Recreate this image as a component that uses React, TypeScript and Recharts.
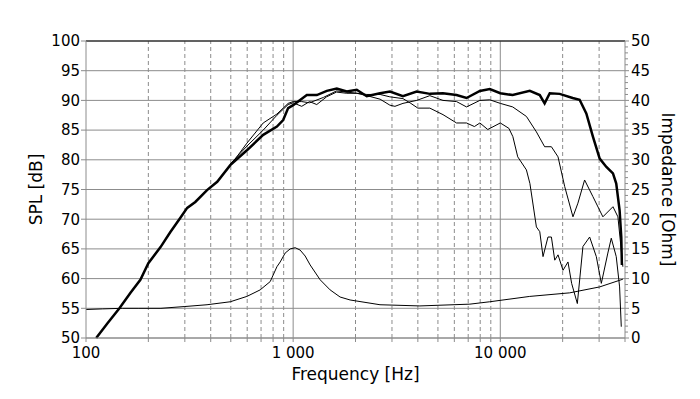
import { LineChart, Line, XAxis, YAxis, CartesianGrid, ReferenceLine } from 'recharts';

// frequency axis
const freqTicks = [
  100, 200, 300, 400, 500, 600, 700, 800, 900,
  1000, 2000, 3000, 4000, 5000, 6000, 7000, 8000, 9000,
  10000, 20000, 30000, 40000,
];
const labelledFreqs = [100, 1000, 10000];
const minorFreqs = [
  200, 300, 400, 500, 600, 700, 800, 900,
  2000, 3000, 4000, 5000, 6000, 7000, 8000, 9000,
  20000, 30000,
];
const decadeFreqs = [1000, 10000];

const splTicks = [50, 55, 60, 65, 70, 75, 80, 85, 90, 95, 100];
const impedanceTicks = Array.from({ length: 51 }, (_, i) => i);

// on-axis SPL (thick)
const onAxisFreq = [
  112, 127, 145, 164, 183, 200, 229, 255, 285, 308, 337, 384, 430, 497, 598, 717, 835, 895, 946,
  1000, 1164, 1301, 1454, 1624, 1815, 2028, 2266, 2626, 2934, 3388, 3945, 4574, 5285, 6148, 6871,
  7967, 8900, 10000, 11480, 13880, 15510, 16370, 17330, 19360, 22350, 24150, 26020, 28000, 30190,
  32520, 34990, 36290, 37670, 38380, 38640,
];
const onAxisSpl = [
  50, 52.5, 55, 57.6, 59.8, 62.6, 65.3, 67.8, 70.2, 71.9, 72.9, 74.9, 76.3, 79.1, 81.6, 84.2, 85.6, 86.7, 88.7,
  89.2, 90.9, 90.9, 91.6, 92.0, 91.5, 91.8, 90.7, 91.2, 91.5, 90.7, 91.5, 91.1, 91.2, 90.9, 90.4,
  91.6, 91.9, 91.2, 90.9, 91.6, 90.9, 89.5, 91.2, 91.1, 90.4, 90.1, 87.8, 83.9, 80.2,
  78.8, 77.7, 76.0, 71.5, 67.0, 62.3,
];

// off-axis SPL, middle roll-off (thin)
const offAxisAFreq = [
  497, 598, 717, 835, 946, 1000, 1100, 1200, 1300, 1450, 1620, 1815, 2030, 2270, 2630, 2930, 3100,
  3390, 3950, 4570, 5290, 6150, 6870, 7970, 8900, 10000, 11480, 13370, 14940, 16370, 17650, 19000,
  20460, 22430, 23700, 25530, 28000, 31280, 34990, 36970, 38380, 39060,
];
const offAxisASpl = [
  79.3, 82.3, 85.0, 87.5, 89.3, 89.6, 89.0, 89.8, 89.3, 90.6, 91.4, 91.2, 91.2, 90.8, 90.2, 89.2, 89.0,
  89.5, 90.0, 90.8, 90.0, 89.8, 88.9, 90.0, 90.1, 89.5, 88.9, 87.3, 84.7, 82.2, 82.2, 80.5,
  75.5, 70.4, 72.7, 76.6, 73.8, 70.4, 72.1, 70.4, 64.8, 62.0,
];

// off-axis SPL, early roll-off (thin)
const offAxisBFreq = [
  497, 598, 717, 835, 946, 1000, 1100, 1200, 1400, 1620, 1815, 2030, 2270, 2630, 2930, 3390, 3700,
  4000, 4570, 5290, 6150, 6870, 7500, 7970, 8700, 10000, 11000, 11500, 12140, 13370, 13900, 14940,
  15510, 16080, 16990, 17650, 18320, 19000, 20080, 21220, 22100, 23550, 25060, 27000, 29080, 30750,
  33060, 34340, 36290, 37670, 38380,
];
const offAxisBSpl = [
  79.0, 82.8, 86.2, 87.7, 89.5, 89.8, 89.8, 89.6, 90.5, 91.6, 91.4, 91.2, 91.0, 91.0, 90.6, 90.3, 89.5,
  88.7, 88.7, 87.6, 86.2, 86.2, 85.6, 86.2, 85.1, 86.2, 85.3, 83.9, 80.5, 78.3, 76.0, 68.7,
  67.9, 63.7, 67.0, 67.0, 63.1, 64.0, 61.4, 62.8, 59.2, 55.8, 65.4, 67.0, 63.7, 59.2,
  64.3, 66.8, 63.7, 58.6, 51.9,
];

// impedance (right axis)
const impedanceFreq = [
  100, 120, 150, 180, 230, 300, 384, 497, 598, 693, 775, 835, 866, 915, 968, 1023, 1081, 1143, 1208,
  1350, 1508, 1685, 1883, 2626, 4090, 7130, 8890, 13870, 21620, 30190, 39060,
];
const impedanceOhm = [
  4.8, 4.9, 5.0, 5.0, 5.0, 5.3, 5.6, 6.1, 7.0, 8.1, 9.5, 12.0, 12.8, 14.3, 15.0, 15.2, 14.8, 13.8, 12.3,
  9.8, 8.1, 6.9, 6.4, 5.6, 5.4, 5.7, 6.1, 7.0, 7.6, 8.6, 9.9,
];

const zip = (fs: number[], vs: number[], key: string) => fs.map((f, i) => ({ f, [key]: vs[i] }));

const onAxisData = zip(onAxisFreq, onAxisSpl, 'spl');
const offAxisAData = zip(offAxisAFreq, offAxisASpl, 'spl');
const offAxisBData = zip(offAxisBFreq, offAxisBSpl, 'spl');
const impedanceData = zip(impedanceFreq, impedanceOhm, 'ohm');

const FONT = 'DejaVu Sans, Verdana, sans-serif';
const GRID = '#8c8c8c';

const formatFreq = (v: number) => String(v).replace(/\B(?=(\d{3})+(?!\d))/g, ' ');

function FreqTick({ x, y, payload }: any) {
  if (!labelledFreqs.includes(payload.value)) return <g />;
  return (
    <text x={x} y={y} dy="0.71em" textAnchor="middle" fontSize={15} fontFamily={FONT} fill="#000">
      {formatFreq(payload.value)}
    </text>
  );
}

function ImpedanceTick({ x, y, payload }: any) {
  const major = payload.value % 5 === 0;
  const x0 = x - 6;
  return (
    <g>
      <line x1={x0} y1={y} x2={x0 + (major ? 4 : 3)} y2={y} stroke={GRID} />
      {major && (
        <text x={x} y={y} dy="0.355em" textAnchor="start" fontSize={15} fontFamily={FONT} fill="#000">
          {payload.value}
        </text>
      )}
    </g>
  );
}

export default function App() {
  return (
    <div>
      <style>{`body{margin:0}`}</style>
      <LineChart width={700} height={399} margin={{ top: 41, right: 15, bottom: 31, left: 26 }}>
        <CartesianGrid yAxisId="spl" vertical={false} stroke={GRID} />
        <XAxis
          dataKey="f"
          type="number"
          scale="log"
          domain={[100, 40000]}
          allowDataOverflow
          ticks={freqTicks}
          interval={0}
          height={30}
          tickSize={4}
          tickMargin={5}
          tick={<FreqTick />}
          stroke={GRID}
          label={{ value: 'Frequency [Hz]', position: 'bottom', offset: 0, fontSize: 17, fontFamily: FONT, fill: '#000' }}
        />
        <YAxis
          yAxisId="spl"
          domain={[50, 100]}
          ticks={splTicks}
          interval={0}
          width={60}
          tickSize={5}
          tickMargin={1}
          stroke={GRID}
          tick={{ fontSize: 15, fontFamily: FONT, fill: '#000' }}
          label={{ value: 'SPL [dB]', angle: -90, position: 'insideLeft', offset: 10, fontSize: 17, fontFamily: FONT, fill: '#000', style: { textAnchor: 'middle' } }}
        />
        <YAxis
          yAxisId="imp"
          orientation="right"
          domain={[0, 50]}
          ticks={impedanceTicks}
          interval={0}
          width={60}
          tickSize={4}
          tickMargin={2}
          tickLine={false}
          stroke={GRID}
          tick={<ImpedanceTick />}
          label={{ value: 'Impedance [Ohm]', angle: 90, position: 'insideRight', offset: 17, fontSize: 17, fontFamily: FONT, fill: '#000', style: { textAnchor: 'middle' } }}
        />
        {decadeFreqs.map((f) => (
          <ReferenceLine key={`d${f}`} x={f} yAxisId="spl" stroke={GRID} />
        ))}
        {minorFreqs.map((f) => (
          <ReferenceLine key={`m${f}`} x={f} yAxisId="spl" stroke={GRID} strokeDasharray="4 3" />
        ))}
        <ReferenceLine y={100} yAxisId="spl" stroke="#000" />
        <Line yAxisId="imp" data={impedanceData} dataKey="ohm" stroke="#000" strokeWidth={1} dot={false} isAnimationActive={false} />
        <Line yAxisId="spl" data={offAxisBData} dataKey="spl" stroke="#000" strokeWidth={1} dot={false} isAnimationActive={false} />
        <Line yAxisId="spl" data={offAxisAData} dataKey="spl" stroke="#000" strokeWidth={1} dot={false} isAnimationActive={false} />
        <Line yAxisId="spl" data={onAxisData} dataKey="spl" stroke="#000" strokeWidth={2.5} dot={false} isAnimationActive={false} />
      </LineChart>
    </div>
  );
}
